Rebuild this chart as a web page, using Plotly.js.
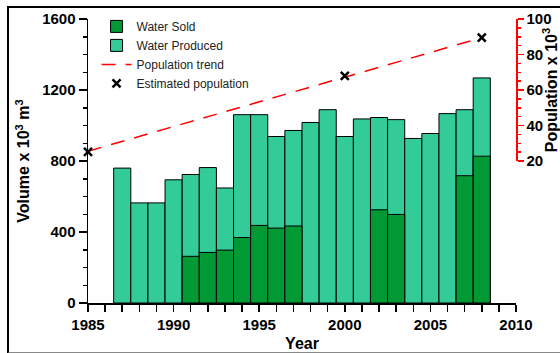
<!DOCTYPE html>
<html>
<head>
<meta charset="utf-8">
<script src="https://cdn.plot.ly/plotly-3.0.1.min.js"></script>
<style>
  html, body { margin: 0; padding: 0; width: 560px; height: 353px; overflow: hidden; background: #fff; }
  #chart { position: absolute; left: 0; top: 0; width: 560px; height: 353px; }
  #frame { position: absolute; left: 7px; top: 6px; width: 600px; height: 344px;
           border-top: 2px solid #000; border-left: 2px solid #000; border-bottom: 2px solid #888; pointer-events: none; }
</style>
</head>
<body>
<div id="chart"></div>
<div id="frame"></div>
<script>
// ---- data ----
const years = [1987, 1988, 1989, 1990, 1991, 1992, 1993, 1994, 1995, 1996, 1997,
               1998, 1999, 2000, 2001, 2002, 2003, 2004, 2005, 2006, 2007, 2008];
const waterProduced = [760, 564, 564, 694, 724, 763, 648, 1061, 1061, 938, 972,
                       1017, 1089, 938, 1037, 1045, 1033, 927, 955, 1067, 1089, 1268];
const soldYears = [1991, 1992, 1993, 1994, 1995, 1996, 1997, 2002, 2003, 2007, 2008];
const waterSold = [263, 285, 298, 369, 437, 422, 434, 525, 499, 717, 827];
const trendYears = [1985, 2008];
const trendPopulation = [25.5, 89.5];
const popYears = [1985, 2000, 2008];
const population = [25.2, 68.0, 89.5];

const darkGreen = '#009933';
const lightGreen = '#33cc99';
const tickFont = {family: 'Liberation Sans, Arial, sans-serif', size: 15, color: '#000', weight: 'bold'};
const titleFont = {family: 'Liberation Sans, Arial, sans-serif', size: 16, color: '#000', weight: 'bold'};

const traces = [
  {type: 'bar', x: years, y: waterProduced, name: 'Water Produced', width: 1,
   marker: {color: lightGreen, line: {color: '#000', width: 1}}, legendrank: 2},
  {type: 'bar', x: soldYears, y: waterSold, name: 'Water Sold', width: 1,
   marker: {color: darkGreen, line: {color: '#000', width: 1}}, legendrank: 1},
  {type: 'scatter', mode: 'lines', x: trendYears, y: trendPopulation, yaxis: 'y2', cliponaxis: false,
   name: 'Population trend', line: {color: '#ff0000', width: 1.5, dash: '14px,10px'}, legendrank: 3},
  {type: 'scatter', mode: 'markers', x: popYears, y: population, yaxis: 'y2', cliponaxis: false,
   name: 'Estimated population', marker: {symbol: 'x-thin', size: 8, color: '#000', line: {color: '#000', width: 2.5}},
   legendrank: 4}
];

const layout = {
  width: 560, height: 353,
  margin: {l: 88, r: 44, t: 17, b: 50, pad: 0},
  paper_bgcolor: '#fff', plot_bgcolor: 'rgba(0,0,0,0)',
  barmode: 'overlay',
  bargap: 0,
  showlegend: true,
  legend: {x: 0.02, y: 1.025, xanchor: 'left', yanchor: 'top', bgcolor: 'rgba(0,0,0,0)',
           font: {family: 'Liberation Sans, Arial, sans-serif', size: 12, color: '#222'},
           tracegroupgap: 0, itemwidth: 30},
  xaxis: {
    range: [1985, 2010], dtick: 5, tick0: 1985, showgrid: false, zeroline: false,
    showline: true, linecolor: '#000', linewidth: 1.5,
    ticks: 'outside', ticklen: 7, tickwidth: 1.5, tickcolor: '#000',
    minor: {dtick: 1, ticks: 'outside', ticklen: 7, tickwidth: 1.5, tickcolor: '#000'},
    tickfont: tickFont,
    title: {text: 'Year', font: titleFont, standoff: 6}
  },
  yaxis: {
    range: [0, 1600], dtick: 400, showgrid: false, zeroline: false,
    showline: true, linecolor: '#000', linewidth: 1.5,
    ticks: 'outside', ticklen: 8, tickwidth: 1.5, tickcolor: '#000',
    minor: {dtick: 100, ticks: 'outside', ticklen: 4, tickwidth: 1.5, tickcolor: '#000'},
    tickfont: tickFont,
    title: {text: 'Volume x 10<sup>3</sup> m<sup>3</sup>', font: titleFont, standoff: 8}
  },
  yaxis2: {
    domain: [0.5, 1], anchor: 'x', side: 'right',
    range: [20, 100], dtick: 20, showgrid: false, zeroline: false,
    showline: true, linecolor: '#ff0000', linewidth: 1.5,
    ticks: 'outside', ticklen: 6, tickwidth: 1.5, tickcolor: '#ff0000',
    minor: {dtick: 5, ticks: 'outside', ticklen: 3, tickwidth: 1.5, tickcolor: '#ff0000'},
    tickfont: tickFont,
    title: {text: 'Population x 10<sup>3</sup>', font: titleFont, standoff: 6}
  }
};

Plotly.newPlot('chart', traces, layout, {displayModeBar: false, staticPlot: true});
</script>
</body>
</html>
